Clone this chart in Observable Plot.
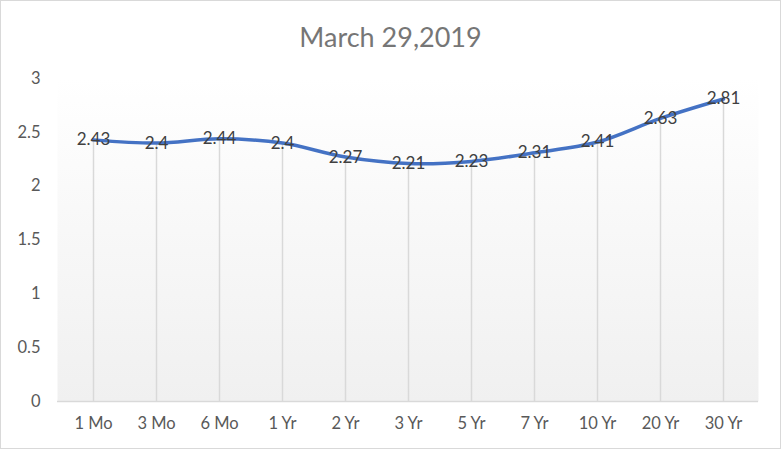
<!DOCTYPE html>
<html>
<head>
<meta charset="utf-8">
<script src="https://cdn.jsdelivr.net/npm/d3@7"></script>
<script src="https://cdn.jsdelivr.net/npm/@observablehq/plot@0.6"></script>
<style>
  html, body { margin: 0; padding: 0; background: #fff; }
  #chart { box-sizing: border-box; width: 781px; height: 449px; border: 1px solid #d9d9d9; overflow: hidden; font-family: Lato, "Open Sans", sans-serif; }
  #title { height: 57px; text-align: center; font-size: 27px; color: #767676; line-height: 72px; }
  svg { display: block; }
</style>
</head>
<body>
<div id="chart"><div id="title">March 29,2019</div></div>
<script>
const maturities = ["1 Mo", "3 Mo", "6 Mo", "1 Yr", "2 Yr", "3 Yr", "5 Yr", "7 Yr", "10 Yr", "20 Yr", "30 Yr"];
const yields = [2.43, 2.4, 2.44, 2.4, 2.27, 2.21, 2.23, 2.31, 2.41, 2.63, 2.81];
const yTicks = [0, 0.5, 1, 1.5, 2, 2.5, 3];

const data = maturities.map((m, i) => ({ m, v: yields[i] }));

const plot = Plot.plot({
  width: 779,
  height: 390,
  marginLeft: 56,
  marginRight: 22,
  marginTop: 20,
  marginBottom: 47,
  style: { fontFamily: "Lato, 'Open Sans', sans-serif", fontSize: "16.5px", color: "#595959", background: "transparent" },
  x: { type: "point", domain: maturities, padding: 0.5, label: null, tickSize: 0, tickPadding: 16 },
  y: { domain: [0, 3], ticks: yTicks, tickFormat: d => String(d), label: null, tickSize: 0, tickPadding: 17 },
  marks: [
    Plot.frame({ fill: "url(#bgGrad)", stroke: "none" }),
    Plot.ruleX(data, { x: "m", y1: 0, y2: "v", stroke: "#d9d9d9", strokeWidth: 1.5 }),
    Plot.ruleY([0], { stroke: "#d9d9d9", strokeWidth: 1.5 }),
    Plot.line(data, { x: "m", y: "v", curve: "catmull-rom", stroke: "#4472c4", strokeWidth: 3.5 }),
    Plot.text(data, { x: "m", y: "v", text: d => String(d.v), fill: "#404040", fontSize: 17 })
  ]
});

const svg = d3.select(plot);
const defs = svg.insert("defs", ":first-child");
const g = defs.append("linearGradient").attr("id", "bgGrad").attr("x1", 0).attr("y1", 0).attr("x2", 0).attr("y2", 1);
g.append("stop").attr("offset", "0%").attr("stop-color", "#ffffff");
g.append("stop").attr("offset", "100%").attr("stop-color", "#f0f0f0");

document.getElementById("chart").appendChild(plot);
</script>
</body>
</html>
